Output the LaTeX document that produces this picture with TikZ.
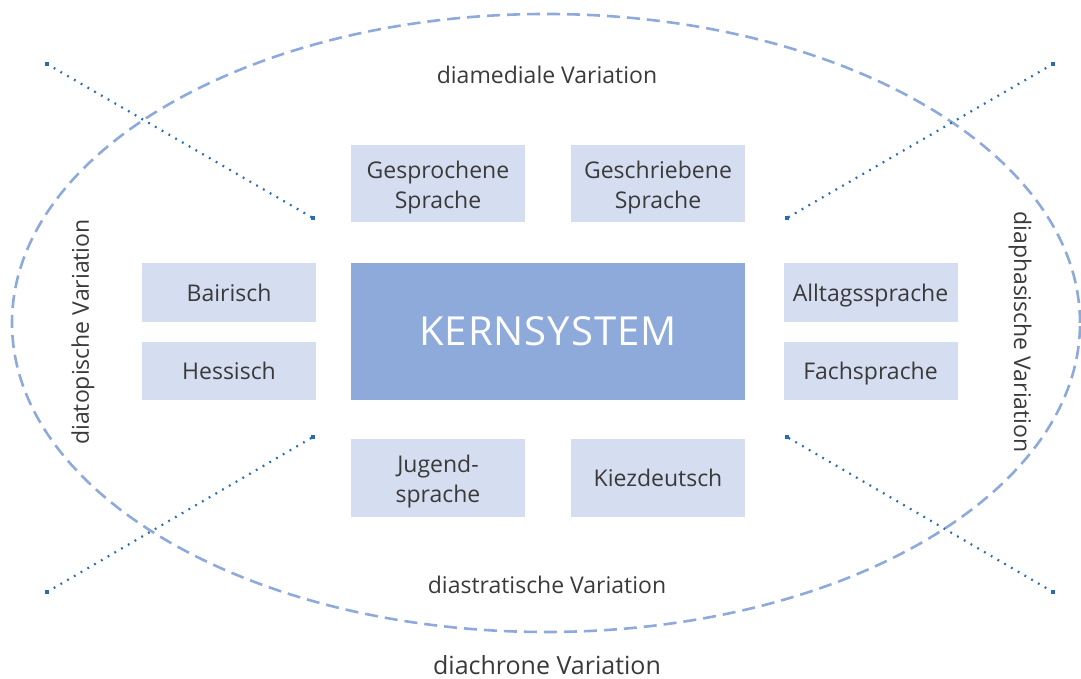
\documentclass[tikz,border=0pt]{standalone}
\usepackage{fontspec}
\setmainfont{Open Sans}
\usetikzlibrary{positioning}

\definecolor{varfill}{HTML}{D5DDF0}
\definecolor{kernfill}{HTML}{8DAADB}
\definecolor{ringcol}{HTML}{8EA9DB}
\definecolor{dotcol}{HTML}{2A6AB0}
\definecolor{labcol}{HTML}{3A3A3A}

\tikzset{
	varbase/.style={fill=varfill, minimum width=87pt, text=labcol,
		font=\fontsize{11.5}{15}\selectfont, align=center, inner sep=0pt},
	variety/.style={varbase, text height=8.8pt, text depth=0pt},
	twoline/.style={varbase, minimum height=38.5pt, text height=25pt, text depth=0pt},
	kernbox/.style={fill=kernfill, minimum width=197pt, minimum height=68.5pt,
		text=white, font=\fontsize{20}{22}\selectfont\addfontfeature{LetterSpace=2.5}},
	dimlabel/.style={text=labcol, font=\fontsize{11.5}{13}\selectfont},
	ring/.style={draw=ringcol, line width=1.3pt, dash pattern=on 6.5pt off 3.5pt},
	axisline/.style={draw=dotcol, line width=1.1pt, dash pattern=on 0.9pt off 3pt},
	axisend/.style={fill=dotcol, inner sep=0pt, minimum size=2pt}
}

\begin{document}
\begin{tikzpicture}[x=0.5pt, y=0.5pt]
		\useasboundingbox (0,0) rectangle (1081,679);

		%%% ELLIPSE
		\draw[ring] (546,356) ellipse [x radius=534, y radius=309];

		%%% ACHSEN
		\coordinate (tlo) at (47,615);
		\coordinate (tli) at (313,461);
		\coordinate (tro) at (1053,615);
		\coordinate (tri) at (787,461);
		\coordinate (blo) at (47,87);
		\coordinate (bli) at (313,242);
		\coordinate (bro) at (1053,87);
		\coordinate (bri) at (787,242);
		\draw[axisline] (tlo) -- (tli);
		\draw[axisline] (tro) -- (tri);
		\draw[axisline] (blo) -- (bli);
		\draw[axisline] (bro) -- (bri);
		\foreach \p in {tlo,tli,tro,tri,blo,bli,bro,bri}
			\node[axisend] at (\p) {};

		%%% KERN
		\node[kernbox] (kern) at (548,347.5) {KERNSYSTEM};

		%%% VARIETAETEN
		\node[twoline] (gesprochen) at (438,495.5) {Gesprochene\\Sprache};
		\node[twoline] (geschrieben) at (658,495.5) {Geschriebene\\Sprache};
		\node[variety, minimum height=29.5pt] (bairisch) at (229,386.5) {Bairisch};
		\node[variety, minimum height=29pt] (hessisch) at (229,308) {Hessisch};
		\node[variety, minimum height=29.5pt] (alltag) at (870.5,386.5) {Alltagssprache};
		\node[variety, minimum height=29pt] (fach) at (870.5,308) {Fachsprache};
		\node[twoline, minimum height=39pt] (jugend) at (438,201) {Jugend-\\sprache};
		\node[variety, minimum height=39pt] (kiez) at (658,201) {Kiezdeutsch};

		%%% DIMENSIONEN
		\node[dimlabel] (diamedial) at (547,604) {diamediale Variation};
		\node[dimlabel] (diastratisch) at (547,94) {diastratische Variation};
		\node[dimlabel, font=\fontsize{12.5}{14}\selectfont] (diachron) at (547,14) {diachrone Variation};
		\node[dimlabel, rotate=90] (diatopisch) at (83,347) {diatopische Variation};
		\node[dimlabel, rotate=-90] (diaphasisch) at (1020,347) {diaphasische Variation};
	\end{tikzpicture}
\end{document}
